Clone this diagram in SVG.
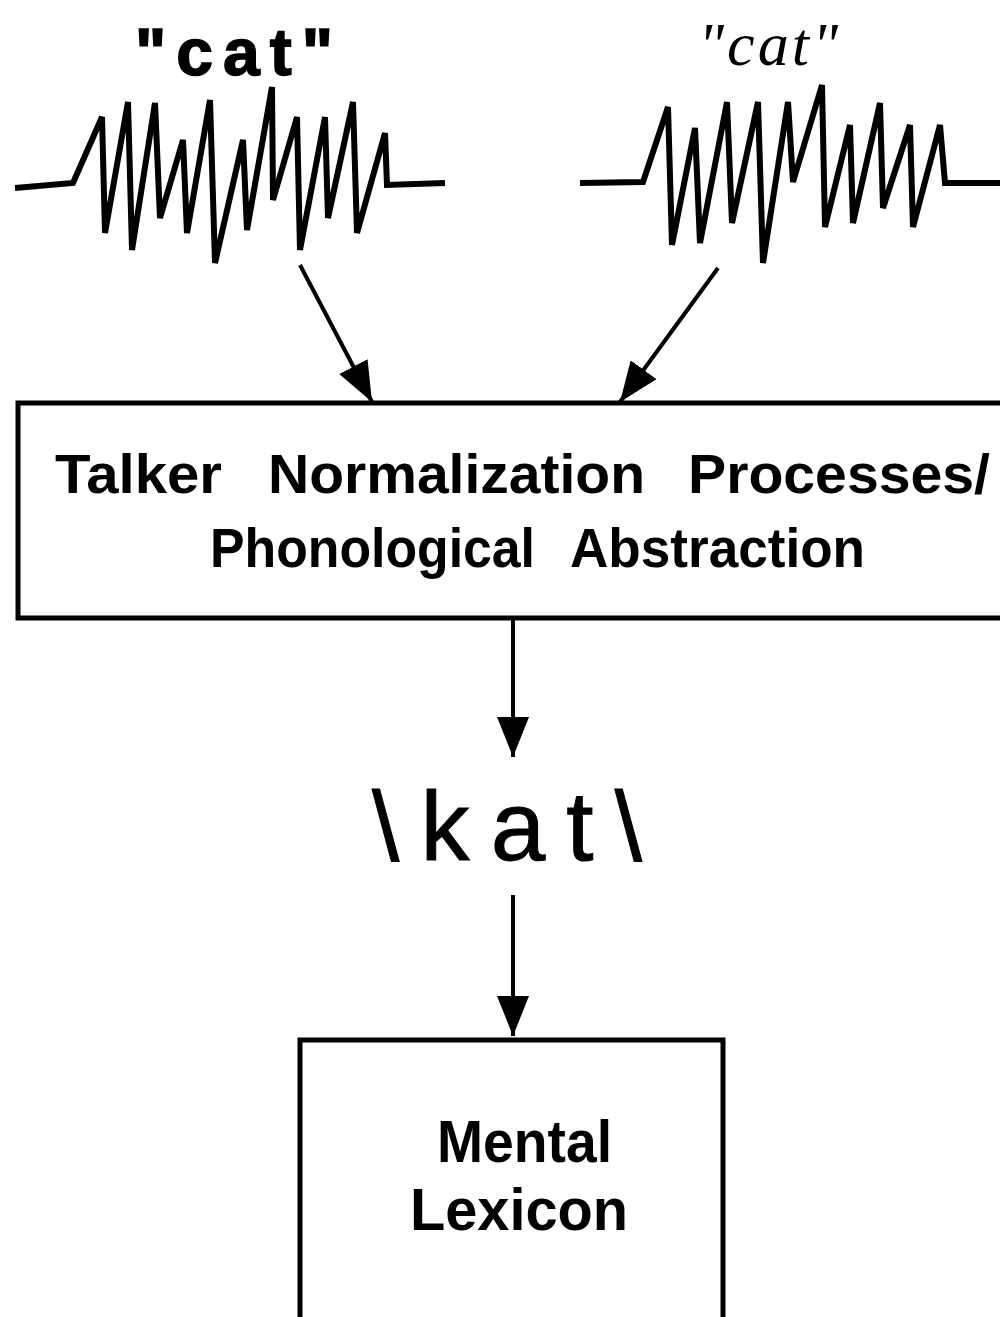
<svg xmlns="http://www.w3.org/2000/svg" width="1000" height="1317" viewBox="0 0 1000 1317">
<style>
.wave{fill:none;stroke:#000;stroke-width:6;stroke-linejoin:miter;stroke-miterlimit:3}
.box{fill:#fff;stroke:#000;stroke-width:5}
.conn{stroke:#000;stroke-width:4;fill:none}
.lbl{font-family:"Liberation Sans",Arial,sans-serif;font-weight:bold;fill:#000}
</style>
<defs>
<marker id="ah" viewBox="0 0 40 32" refX="40" refY="16" markerWidth="40" markerHeight="32" markerUnits="userSpaceOnUse" orient="auto">
<path d="M0,0 L40,16 L0,32 Z" fill="#000"/>
</marker>
</defs>
<rect width="1000" height="1317" fill="#fff"/>

<g id="wave-left">
<text x="135" y="75" font-family="'Liberation Sans',Arial,sans-serif" font-weight="bold" font-size="66" stroke="#000" stroke-width="1.5" textLength="198">"cat"</text>
<polyline class="wave" points="15,188 73,183 102,117 105,233 128,102 132,250 155,103 160,218 183,140 187,233 210,100 215,263 243,140 247,230 272,87 273,200 297,117 300,250 325,117 328,218 353,102 357,233 385,133 387,185 445,183"/>
</g>

<g id="wave-right">
<text x="698" y="65" font-family="'Liberation Serif','Times New Roman',serif" font-style="italic" font-size="62" textLength="140">"cat"</text>
<polyline class="wave" points="580,183 643,182 668,107 672,245 695,128 700,243 727,102 732,223 758,102 763,263 788,102 793,182 822,85 825,227 850,125 853,223 880,103 883,208 910,125 913,227 940,125 945,183 1000,183"/>
</g>

<g id="connectors">
<line class="conn" x1="300" y1="265" x2="372" y2="402" marker-end="url(#ah)"/>
<line class="conn" x1="718" y1="268" x2="620" y2="402" marker-end="url(#ah)"/>
<line class="conn" x1="513" y1="618" x2="513" y2="757" marker-end="url(#ah)"/>
<line class="conn" x1="513" y1="895" x2="513" y2="1036" marker-end="url(#ah)"/>
</g>

<g id="node-normalization">
<rect class="box" x="18" y="403" width="990" height="215"/>
<text class="lbl" font-size="56" lengthAdjust="spacingAndGlyphs">
<tspan x="55" y="493" textLength="167" lengthAdjust="spacingAndGlyphs">Talker</tspan>
<tspan x="268" y="493" textLength="377" lengthAdjust="spacingAndGlyphs">Normalization</tspan>
<tspan x="688" y="493" textLength="302" lengthAdjust="spacingAndGlyphs">Processes/</tspan>
<tspan x="210" y="567" textLength="325" lengthAdjust="spacingAndGlyphs">Phonological</tspan>
<tspan x="570" y="567" textLength="295" lengthAdjust="spacingAndGlyphs">Abstraction</tspan>
</text>
</g>

<g id="node-kat">
<text x="372" y="860" font-family="'Liberation Sans',Arial,sans-serif" font-size="98" stroke="#000" stroke-width="1" textLength="270">\kat\</text>
</g>

<g id="node-lexicon">
<rect class="box" x="300" y="1040" width="423" height="285"/>
<text class="lbl" font-size="60">
<tspan x="437" y="1162" textLength="175" lengthAdjust="spacingAndGlyphs">Mental</tspan>
<tspan x="410" y="1230" textLength="218" lengthAdjust="spacingAndGlyphs">Lexicon</tspan>
</text>
</g>
</svg>
